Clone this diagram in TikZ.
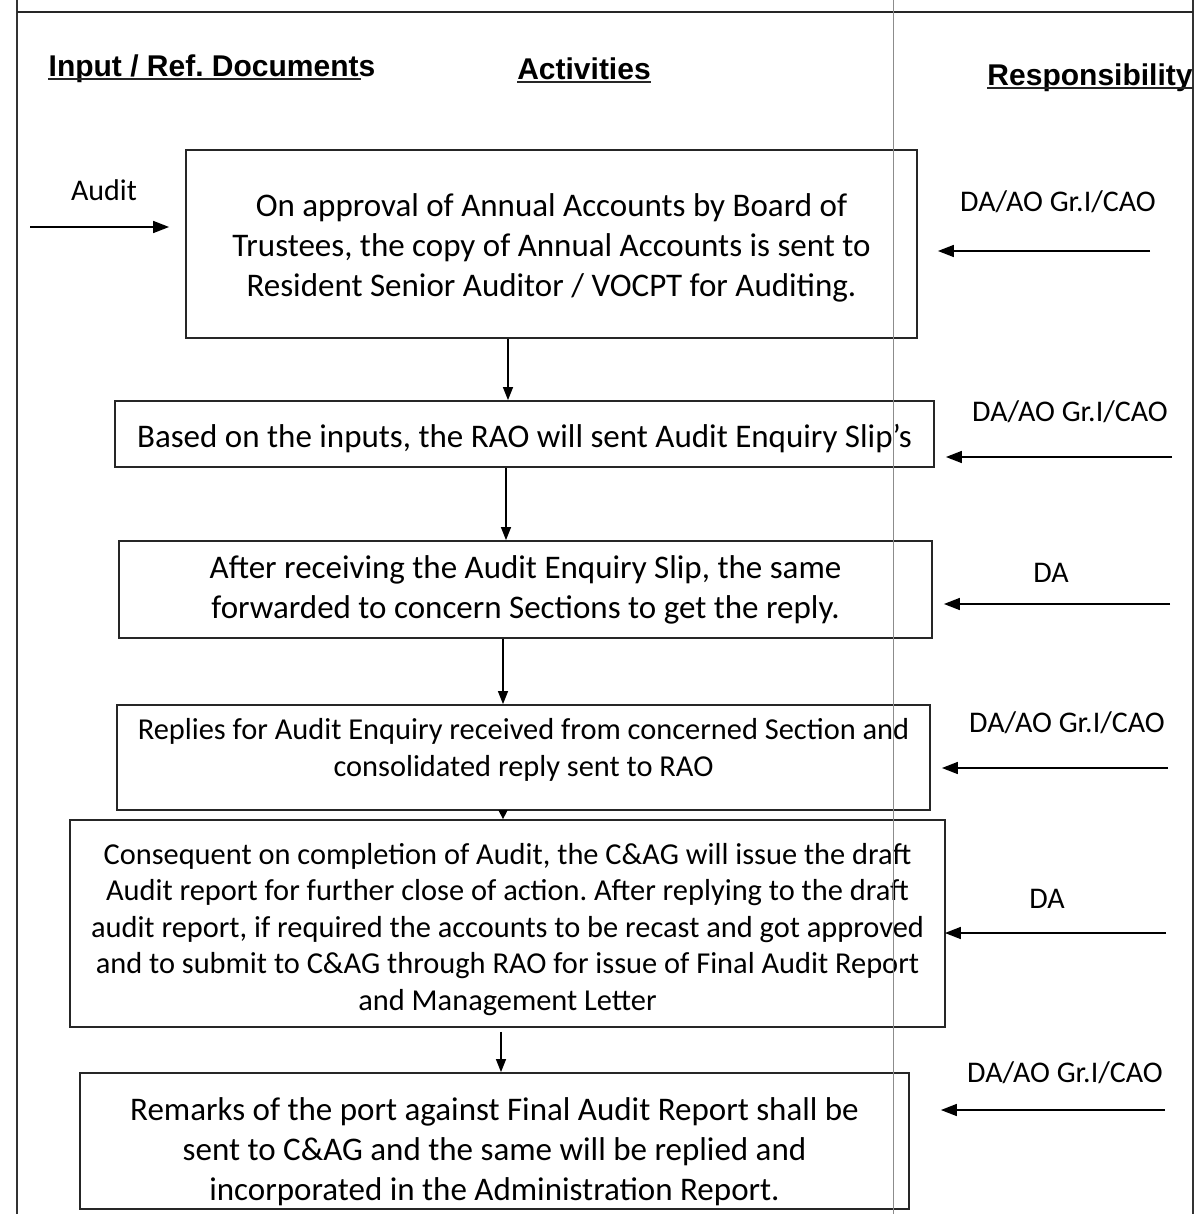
\documentclass[tikz,border=0pt]{standalone}
\usepackage{fontspec}
\setmainfont{Carlito}
\newfontfamily\hdrfont{Liberation Sans}
\usetikzlibrary{arrows.meta}
\frenchspacing
\tikzset{
  box/.style={draw=black!85, line width=1.8pt, inner sep=0pt},
  btxt/.style={inner sep=0pt, align=center, font=\fontsize{33}{40}\selectfont},
  stxt/.style={inner sep=0pt, align=center, font=\fontsize{30.4}{37}\selectfont},
  hdr/.style={inner sep=0pt, text depth=0.22em, font=\hdrfont\bfseries\fontsize{30}{36}\selectfont},
  resp/.style={inner sep=0pt, font=\fontsize{30}{36}\selectfont},
  varr/.style={line width=1.4pt, -{Triangle[length=13pt,width=10pt]}},
  harr/.style={line width=1.6pt, -{Triangle[length=16pt,width=12pt]}},
  uline/.style={line width=2.6pt, black!85},
  frame/.style={line width=1.4pt, black!80}
}
\begin{document}
\begin{tikzpicture}[x=1pt,y=-1pt]
\useasboundingbox (0,0) rectangle (1199,1214);
% frame
\draw[frame] (17,0) -- (17,1214);
\draw[frame] (1193,0) -- (1193,1214);
\draw[line width=2.4pt, black!85] (17,12) -- (1193,12);
% headers
\node[hdr] (h1) at (212,67) {Input / Ref. Documents};
\node[hdr] (h2) at (584,70) {Activities};
\node[hdr] (h3) at (1090,76) {Responsibility};
\draw[uline] (h1.south west) -- ([xshift=-15pt]h1.south east);
\draw[uline] (h2.south west) -- (h2.south east);
\draw[uline] (h3.south west) -- (h3.south east);
% boxes
\node[box, minimum width=731pt, minimum height=188pt] (b1) at (551.5,244) {};
\node[btxt] (t1) at ([yshift=-4pt]b1.center)
  {On approval of Annual Accounts by Board of\\Trustees, the copy of Annual Accounts is sent to\\Resident Senior Auditor / VOCPT for Auditing.};
\node[box, minimum width=819pt, minimum height=66pt] (b2) at (524.5,434) {};
\node[btxt] (t2) at ([yshift=-5pt]b2.center)
  {Based on the inputs, the RAO will sent Audit Enquiry Slip’s};
\node[box, minimum width=813pt, minimum height=97pt] (b3) at (525.5,589.5) {};
\node[btxt] (t3) at ([yshift=0pt]b3.center)
  {After receiving the Audit Enquiry Slip, the same\\forwarded to concern Sections to get the reply.};
\node[box, minimum width=813pt, minimum height=105pt] (b4) at (523.5,757.5) {};
\node[stxt] (t4) at ([yshift=8pt]b4.center)
  {Replies for Audit Enquiry received from concerned Section and\\consolidated reply sent to RAO};
\node[box, minimum width=875pt, minimum height=207pt] (b5) at (507.5,923.5) {};
\node[stxt, font=\fontsize{30.4}{36.5}\selectfont] (t5) at ([yshift=-6pt]b5.center)
  {Consequent on completion of Audit, the C\&AG will issue the draft\\Audit report for further close of action. After replying to the draft\\audit report, if required the accounts to be recast and got approved\\and to submit to C\&AG through RAO for issue of Final Audit Report\\and Management Letter};
\node[box, minimum width=829pt, minimum height=136pt] (b6) at (494.5,1141) {};
\node[btxt] (t6) at ([yshift=-11pt]b6.center)
  {Remarks of the port against Final Audit Report shall be\\sent to C\&AG and the same will be replied and\\incorporated in the Administration Report.};
% grey column line
\draw[black!45, line width=0.8pt] (893,0) -- (893,1214);
% vertical arrows
\coordinate (v1) at (508,0);
\coordinate (v2) at (506,0);
\coordinate (v3) at (503,0);
\coordinate (v4) at (503,0);
\coordinate (v5) at (501,0);
\draw[varr] (b1.south -| v1) -- (b2.north -| v1);
\draw[varr] (b2.south -| v2) -- (b3.north -| v2);
\draw[varr] (b3.south -| v3) -- (b4.north -| v3);
\draw[line width=1.4pt, -{Triangle[length=9pt,width=9pt]}] (b4.south -| v4) -- (b5.north -| v4);
\draw[varr] ([yshift=-4pt]b5.south -| v5) -- (b6.north -| v5);
% input
\node[resp] (in1) at (104,190) {Audit};
\coordinate (s0) at (30,227);
\draw[harr, shorten >=16pt] (s0) -- (b1.west |- s0);
% responsibility labels and arrows
\node[resp] (r1) at (1058,202) {DA/AO Gr.I/CAO};
\node[resp] (r2) at (1070,412) {DA/AO Gr.I/CAO};
\node[resp] (r3) at (1051,573) {DA};
\node[resp] (r4) at (1067,723) {DA/AO Gr.I/CAO};
\node[resp] (r5) at (1047,899) {DA};
\node[resp] (r6) at (1065,1073) {DA/AO Gr.I/CAO};
\coordinate (e1) at (1150,251);
\coordinate (e2) at (1172,457);
\coordinate (e3) at (1170,604);
\coordinate (e4) at (1168,768);
\coordinate (e5) at (1166,933);
\coordinate (e6) at (1165,1110);
\draw[harr, shorten >=20pt] (e1) -- (b1.east |- e1);
\draw[harr, shorten >=11pt] (e2) -- (b2.east |- e2);
\draw[harr, shorten >=11pt] (e3) -- (b3.east |- e3);
\draw[harr, shorten >=11pt] (e4) -- (b4.east |- e4);
\draw[harr, shorten >=-1pt] (e5) -- (b5.east |- e5);
\draw[harr, shorten >=31pt] (e6) -- (b6.east |- e6);
\end{tikzpicture}
\end{document}
